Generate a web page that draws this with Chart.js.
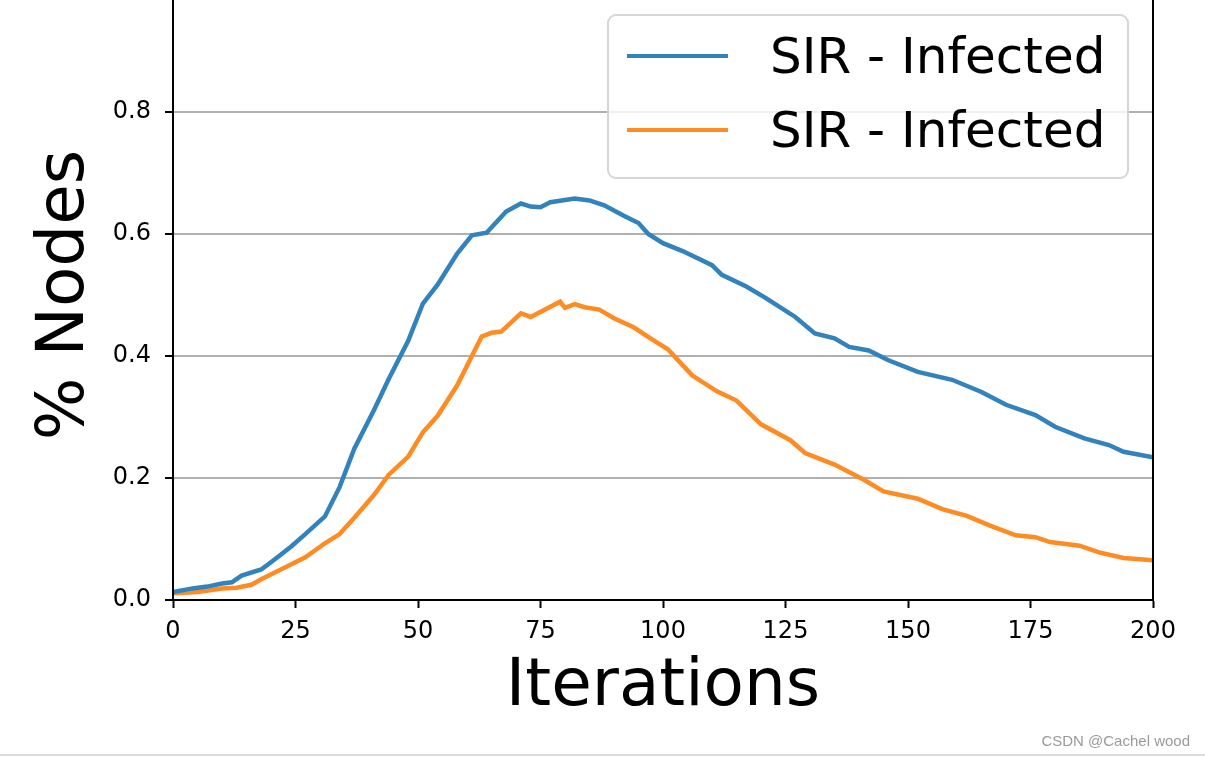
<!DOCTYPE html>
<html>
<head>
<meta charset="utf-8">
<script src="https://cdn.jsdelivr.net/npm/chart.js@4.4.1/dist/chart.umd.min.js"></script>
<style>
  html, body { margin: 0; padding: 0; background: #fff; overflow: hidden; }
  body { width: 1205px; height: 757px; position: relative; }
  #wrap { position: absolute; left: 0; top: -40px; width: 1205px; height: 797px; }
  #foot { position: absolute; left: 0; top: 754px; width: 1205px; height: 0; border-top: 2px solid #dcdcdc; }
  #mark { position: absolute; right: 15px; top: 732px; font: 15px "Liberation Sans", Arial, sans-serif; color: #9a9a9a; }
</style>
</head>
<body>
<div id="wrap"><canvas id="myChart" width="1205" height="797"></canvas></div>
<div id="foot"></div>
<div id="mark">CSDN @Cachel wood</div>
<script>
// values
var blueIter = [0, 4, 7, 10, 12, 14, 18, 20, 24, 27, 31, 34, 37, 41, 44, 48, 51, 54, 58, 61, 64, 68, 71, 73, 75, 77, 82, 85, 88, 92, 95, 97, 100, 104, 110, 112, 117, 121, 127, 131, 135, 138, 142, 146, 152, 159, 165, 170, 176, 180, 186, 191, 194, 200];
var blueVals = [0.013, 0.019, 0.022, 0.027, 0.029, 0.040, 0.050, 0.062, 0.087, 0.108, 0.137, 0.185, 0.248, 0.311, 0.362, 0.425, 0.486, 0.517, 0.568, 0.598, 0.602, 0.637, 0.650, 0.645, 0.644, 0.652, 0.658, 0.655, 0.647, 0.630, 0.618, 0.600, 0.585, 0.572, 0.549, 0.533, 0.514, 0.495, 0.464, 0.437, 0.429, 0.415, 0.409, 0.393, 0.374, 0.361, 0.341, 0.320, 0.303, 0.284, 0.265, 0.254, 0.243, 0.234];

var orangeIter = [0, 5, 10, 13, 16, 18, 22, 27, 31, 34, 37, 41, 44, 48, 51, 54, 58, 61, 63, 65, 67, 71, 73, 79, 80, 82, 84, 87, 90, 94, 98, 101, 104, 106, 111, 115, 120, 126, 129, 135, 141, 145, 152, 157, 162, 167, 172, 176, 179, 185, 189, 194, 200];
var orangeVals = [0.011, 0.013, 0.019, 0.020, 0.025, 0.034, 0.050, 0.070, 0.093, 0.108, 0.135, 0.172, 0.205, 0.235, 0.275, 0.302, 0.352, 0.400, 0.432, 0.438, 0.440, 0.470, 0.464, 0.489, 0.479, 0.485, 0.480, 0.476, 0.462, 0.447, 0.426, 0.411, 0.385, 0.368, 0.342, 0.327, 0.288, 0.262, 0.241, 0.222, 0.197, 0.178, 0.166, 0.149, 0.138, 0.121, 0.106, 0.103, 0.095, 0.089, 0.078, 0.069, 0.065];

var seriesNames = ['SIR - Infected', 'SIR - Infected'];
var seriesColors = ['rgb(50,130,190)', 'rgb(255,140,35)'];
var xTicks = [0, 25, 50, 75, 100, 125, 150, 175, 200];
var yTicks = [0.0, 0.2, 0.4, 0.6, 0.8, 1.0];

function pairs(xs, ys) {
    var out = [];
    for (let i = 0; i < xs.length; i++) {
        out.push({x: xs[i], y: ys[i]});
    }
    return out;
}

var font = 'DejaVu Sans';

// frame round the plot and the boxed legend, like matplotlib draws them
var framePlugin = {
    id: 'frame',
    afterDatasetsDraw(chart) {
        var ctx = chart.ctx, a = chart.chartArea;
        ctx.save();
        ctx.strokeStyle = '#000';
        ctx.lineWidth = 2;
        ctx.strokeRect(a.left, a.top, a.right - a.left, a.bottom - a.top);

        // legend
        var w = 520, h = 163;
        var bx = a.right - 25 - w, by = a.top + 25;
        ctx.beginPath();
        ctx.roundRect(bx, by, w, h, 8);
        ctx.fillStyle = 'rgba(255,255,255,0.8)';
        ctx.fill();
        ctx.strokeStyle = '#d6d6d6';
        ctx.lineWidth = 2;
        ctx.stroke();
        ctx.font = '50px "' + font + '"';
        ctx.textBaseline = 'middle';
        chart.data.datasets.forEach(function (ds, i) {
            var cy = by + 41 + i * 74;
            ctx.beginPath();
            ctx.moveTo(bx + 19, cy);
            ctx.lineTo(bx + 120, cy);
            ctx.strokeStyle = ds.borderColor;
            ctx.lineWidth = 4;
            ctx.stroke();
            ctx.fillStyle = '#000';
            ctx.fillText(ds.label, bx + 162, cy + 4);
        });
        ctx.restore();
    }
};

new Chart('myChart', {
    type: 'line',
    data: {
        datasets: [{
            label: seriesNames[0],
            data: pairs(blueIter, blueVals),
            borderColor: seriesColors[0],
            borderWidth: 4.5,
            pointRadius: 0,
            tension: 0
        }, {
            label: seriesNames[1],
            data: pairs(orangeIter, orangeVals),
            borderColor: seriesColors[1],
            borderWidth: 4.5,
            pointRadius: 0,
            tension: 0
        }]
    },
    options: {
        responsive: false,
        animation: false,
        layout: { padding: { top: 30, right: 52, left: 0, bottom: 0 } },
        plugins: {
            legend: { display: false },
            tooltip: { enabled: false }
        },
        scales: {
            x: {
                type: 'linear',
                min: 0,
                max: 200,
                afterBuildTicks: function (s) { s.ticks = xTicks.map(function (v) { return {value: v}; }); },
                afterFit: function (s) { s.height = 157; },
                ticks: { font: { family: font, size: 24 }, color: '#000', padding: 9, maxRotation: 0 },
                grid: { drawOnChartArea: false, tickLength: 8, tickColor: '#000', tickWidth: 2 },
                border: { color: '#000', width: 2 },
                title: { display: true, text: 'Iterations', color: '#000', font: { family: font, size: 66 }, padding: { top: 0, bottom: 30 } }
            },
            y: {
                min: 0,
                max: 1,
                afterBuildTicks: function (s) { s.ticks = yTicks.map(function (v) { return {value: v}; }); },
                afterFit: function (s) { s.width = 173; },
                ticks: {
                    font: { family: font, size: 24 }, color: '#000', padding: 14,
                    callback: function (v) { return v.toFixed(1); }
                },
                grid: { color: '#b0b0b0', lineWidth: 2, tickLength: 8, tickColor: '#000', tickWidth: 2 },
                border: { color: '#000', width: 2 },
                title: { display: true, text: '% Nodes', color: '#000', font: { family: font, size: 66 }, padding: { top: 26, bottom: 0 } }
            }
        }
    },
    plugins: [framePlugin]
});
</script>
</body>
</html>
